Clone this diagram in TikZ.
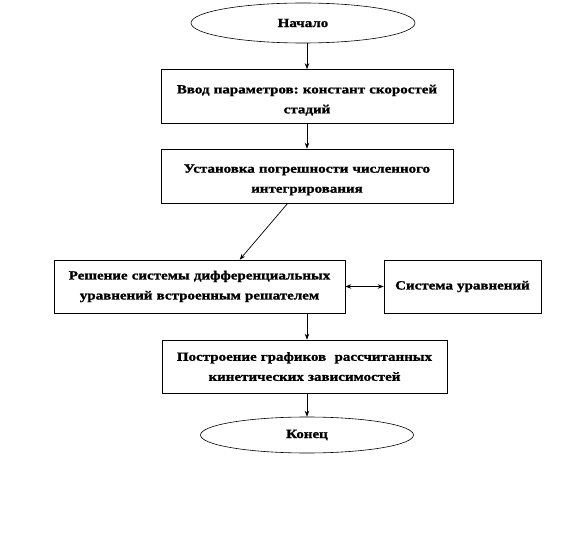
\documentclass[tikz,border=0pt]{standalone}
\usepackage{fontspec}
\setmainfont{Liberation Serif}[BoldFeatures={FakeStretch=1.2,FakeBold=1.2}]
\usetikzlibrary{shapes.geometric,arrows.meta,calc}
\frenchspacing
\newcommand{\tallstrut}{\rule{0pt}{16pt}}
\begin{document}
\begin{tikzpicture}[x=1pt,y=1pt,
  every node/.style={font=\bfseries\fontsize{12.5}{20}\selectfont},
  term/.style={draw, ellipse, line width=0.6pt, inner sep=0pt},
  proc/.style={draw, rectangle, line width=0.6pt, align=center, inner sep=2pt},
  arr/.style={-{Stealth[length=6pt,width=4.5pt]}, line width=0.7pt},
  darr/.style={{Stealth[length=6pt,width=4.5pt]}-{Stealth[length=6pt,width=4.5pt]}, line width=0.7pt}]
\useasboundingbox (0,0) rectangle (576,-540);
\node[term, minimum width=224, minimum height=40] (start) at (303,-23) {Начало};
\node[proc, minimum width=292, minimum height=54, text width=285] (b1) at (307,-96.5) {\tallstrut Ввод параметров: констант скоростей\\стадий};
\node[proc, minimum width=292, minimum height=54, text width=285] (b2) at (307,-176) {\tallstrut Установка погрешности численного\\интегрирования};
\node[proc, minimum width=291, minimum height=53, text width=284] (b3) at (199.5,-286.5) {Решение системы дифференциальных\\уравнений встроенным решателем};
\node[proc, minimum width=157, minimum height=53, text width=150] (b4) at (462.5,-286.5) {Система уравнений};
\node[proc, minimum width=285, minimum height=53, text width=278] (b5) at (304.5,-366.5) {Построение графиков\ \ рассчитанных\\кинетических зависимостей};
\node[term, minimum width=213, minimum height=36] (fin) at (307,-435) {Конец};
\draw[arr] (start.south -| b1) -- (b1.north);
\draw[arr] (b1.south) -- (b2.north);
\draw[arr] ($(b2.south west)+(127,0)$) -- ($(b3.north west)+(186,0)$);
\draw[darr] (b3.east) -- (b4.west);
\draw[arr] (b3.south -| fin) -- (b5.north -| fin);
\draw[arr] (b5.south -| fin) -- (fin.north);
\end{tikzpicture}
\end{document}
